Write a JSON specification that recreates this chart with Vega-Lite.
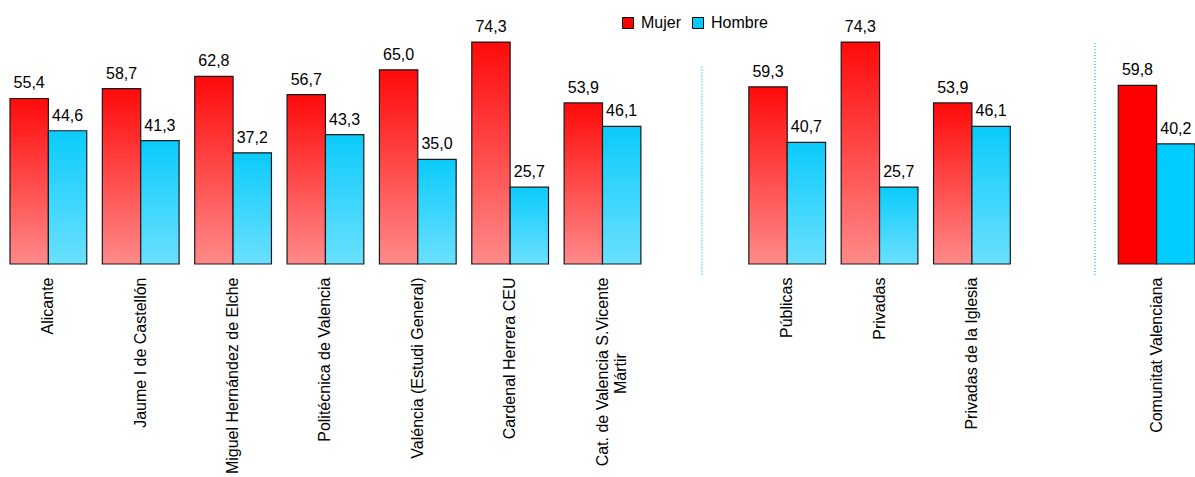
{
  "$schema": "https://vega.github.io/schema/vega-lite/v6.json",
  "width": 1185,
  "height": 239,
  "autosize": {"type": "none"},
  "padding": {"left": 10, "top": 25, "right": 0, "bottom": 213},
  "background": "white",
  "config": {
    "view": {"stroke": null},
    "font": "Liberation Sans",
    "locale": {"number": {"decimal": ",", "thousands": ".", "grouping": [3], "currency": ["", " €"]}},
    "legend": {"orient": "none", "legendX": 610, "legendY": -10, "direction": "horizontal", "padding": 0}
  },
  "datasets": {
    "bars": [
      {"cat": "Alicante", "series": "Mujer", "value": 55.4},
      {"cat": "Alicante", "series": "Hombre", "value": 44.6},
      {"cat": "Jaume I de Castellón", "series": "Mujer", "value": 58.7},
      {"cat": "Jaume I de Castellón", "series": "Hombre", "value": 41.3},
      {"cat": "Miguel Hernández de Elche", "series": "Mujer", "value": 62.8},
      {"cat": "Miguel Hernández de Elche", "series": "Hombre", "value": 37.2},
      {"cat": "Politécnica de Valencia", "series": "Mujer", "value": 56.7},
      {"cat": "Politécnica de Valencia", "series": "Hombre", "value": 43.3},
      {"cat": "Valéncia (Estudi General)", "series": "Mujer", "value": 65.0},
      {"cat": "Valéncia (Estudi General)", "series": "Hombre", "value": 35.0},
      {"cat": "Cardenal Herrera CEU", "series": "Mujer", "value": 74.3},
      {"cat": "Cardenal Herrera CEU", "series": "Hombre", "value": 25.7},
      {"cat": "Cat. de Valencia S.Vicente Mártir", "series": "Mujer", "value": 53.9},
      {"cat": "Cat. de Valencia S.Vicente Mártir", "series": "Hombre", "value": 46.1},
      {"cat": "Públicas", "series": "Mujer", "value": 59.3},
      {"cat": "Públicas", "series": "Hombre", "value": 40.7},
      {"cat": "Privadas", "series": "Mujer", "value": 74.3},
      {"cat": "Privadas", "series": "Hombre", "value": 25.7},
      {"cat": "Privadas de la Iglesia", "series": "Mujer", "value": 53.9},
      {"cat": "Privadas de la Iglesia", "series": "Hombre", "value": 46.1},
      {"cat": "Comunitat Valenciana", "series": "Mujer", "value": 59.8},
      {"cat": "Comunitat Valenciana", "series": "Hombre", "value": 40.2}
    ],
    "seps": [
      {"cat": "sep1", "top": 66.1, "bottom": -4},
      {"cat": "sep2", "top": 74.0, "bottom": -4}
    ]
  },
  "encoding": {
    "x": {
      "field": "cat", "type": "nominal", "sort": null, "title": null,
      "scale": {"domain": ["Alicante", "Jaume I de Castellón", "Miguel Hernández de Elche", "Politécnica de Valencia", "Valéncia (Estudi General)", "Cardenal Herrera CEU", "Cat. de Valencia S.Vicente Mártir", "sep1", "Públicas", "Privadas", "Privadas de la Iglesia", "sep2", "Comunitat Valenciana"], "paddingInner": 0.169, "paddingOuter": 0},
      "axis": {
        "labelAngle": -90, "domain": false, "ticks": false, "labelPadding": 13,
        "labelFontSize": 16, "labelColor": "#000", "labelFont": "Liberation Sans",
        "labelLimit": 0, "labelOverlap": false, "labelLineHeight": 18,
        "labelExpr": "datum.label == 'sep1' || datum.label == 'sep2' ? '' : datum.label == 'Cat. de Valencia S.Vicente Mártir' ? ['Cat. de Valencia S.Vicente', 'Mártir\u00a0\u00a0\u00a0\u00a0\u00a0\u00a0\u00a0\u00a0\u00a0\u00a0\u00a0\u00a0\u00a0\u00a0\u00a0\u00a0\u00a0\u200b'] : datum.label"
      }
    }
  },
  "layer": [
    {
      "data": {"name": "seps"},
      "transform": [{"filter": "datum.cat == 'sep1'"}],
      "mark": {"type": "rule", "color": "#33CCFF", "strokeDash": [1, 2], "strokeWidth": 1.5},
      "encoding": {
        "x": {"field": "cat", "type": "nominal", "bandPosition": 0.59},
        "y": {"field": "top", "type": "quantitative", "scale": {"domain": [0, 80]}, "axis": null},
        "y2": {"field": "bottom"}
      }
    },
    {
      "data": {"name": "seps"},
      "transform": [{"filter": "datum.cat == 'sep2'"}],
      "mark": {"type": "rule", "color": "#33CCFF", "strokeDash": [1, 2], "strokeWidth": 1.5},
      "encoding": {
        "x": {"field": "cat", "type": "nominal", "bandPosition": 0.9},
        "y": {"field": "top", "type": "quantitative", "scale": {"domain": [0, 80]}, "axis": null},
        "y2": {"field": "bottom"}
      }
    },
    {
      "data": {"name": "bars"},
      "transform": [{"filter": "datum.series == 'Mujer' && datum.cat != 'Comunitat Valenciana'"}],
      "mark": {"type": "bar", "stroke": "#1a1a1a", "strokeWidth": 1.2,
        "fill": {"gradient": "linear", "x1": 0, "y1": 0, "x2": 0, "y2": 1, "stops": [{"offset": 0, "color": "#FF0A0A"}, {"offset": 1, "color": "#FF8A8A"}]}},
      "encoding": {
        "xOffset": {"field": "series", "type": "nominal", "scale": {"domain": ["Mujer", "Hombre"], "paddingInner": 0, "paddingOuter": 0}},
        "y": {"field": "value", "type": "quantitative", "scale": {"domain": [0, 80]}, "axis": null}
      }
    },
    {
      "data": {"name": "bars"},
      "transform": [{"filter": "datum.series == 'Hombre' && datum.cat != 'Comunitat Valenciana'"}],
      "mark": {"type": "bar", "stroke": "#1a1a1a", "strokeWidth": 1.2,
        "fill": {"gradient": "linear", "x1": 0, "y1": 0, "x2": 0, "y2": 1, "stops": [{"offset": 0, "color": "#0BCBFB"}, {"offset": 1, "color": "#6BE0FF"}]}},
      "encoding": {
        "xOffset": {"field": "series", "type": "nominal", "scale": {"domain": ["Mujer", "Hombre"], "paddingInner": 0, "paddingOuter": 0}},
        "y": {"field": "value", "type": "quantitative", "scale": {"domain": [0, 80]}, "axis": null}
      }
    },
    {
      "data": {"name": "bars"},
      "transform": [{"filter": "datum.cat == 'Comunitat Valenciana'"}],
      "mark": {"type": "bar", "stroke": "#1a1a1a", "strokeWidth": 1.2},
      "encoding": {
        "xOffset": {"field": "series", "type": "nominal", "scale": {"domain": ["Mujer", "Hombre"], "paddingInner": 0, "paddingOuter": 0}},
        "y": {"field": "value", "type": "quantitative", "scale": {"domain": [0, 80]}, "axis": null},
        "color": {"field": "series", "type": "nominal",
          "scale": {"domain": ["Mujer", "Hombre"], "range": ["#FF0000", "#00CCFF"]},
          "legend": {"title": null, "symbolType": "square", "symbolSize": 121, "symbolStrokeColor": "#000", "symbolStrokeWidth": 1, "labelFontSize": 16, "labelFont": "Liberation Sans", "labelColor": "#000", "labelOffset": 5, "columnPadding": 8}}
      }
    },
    {
      "data": {"name": "bars"},
      "mark": {"type": "text", "dy": -10, "baseline": "alphabetic", "fontSize": 16, "font": "Liberation Sans", "color": "#000"},
      "encoding": {
        "xOffset": {"field": "series", "type": "nominal", "scale": {"domain": ["Mujer", "Hombre"], "paddingInner": 0, "paddingOuter": 0}},
        "y": {"field": "value", "type": "quantitative", "scale": {"domain": [0, 80]}, "axis": null},
        "text": {"field": "value", "type": "quantitative", "format": ".1f"}
      }
    }
  ]
}
